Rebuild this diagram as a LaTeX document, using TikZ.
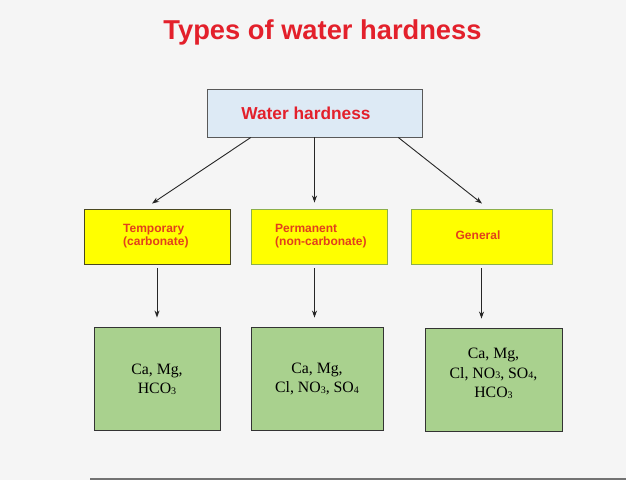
\documentclass[tikz,border=0pt]{standalone}
\usepackage{fontspec}
\setmainfont{Liberation Serif}
\setsansfont{Liberation Sans}
\usetikzlibrary{calc,arrows.meta}
\definecolor{bgc}{HTML}{F5F5F5}
\definecolor{titlered}{HTML}{E3202B}
\definecolor{labred}{HTML}{E2401C}
\definecolor{topfill}{HTML}{DDEAF5}
\definecolor{yfill}{HTML}{FFFF00}
\definecolor{gfill}{HTML}{A9D18E}
\definecolor{oliveb}{HTML}{4A4820}
\definecolor{greenb}{HTML}{8DB04A}
\newcommand{\sbx}[1]{\raisebox{-0.6pt}{\fontsize{10}{10}\selectfont #1}}
\tikzset{
  box/.style={draw, rectangle, inner sep=0pt, line width=0.9pt},
  ybox/.style={box, fill=yfill},
  gbox/.style={box, fill=gfill, draw=black!80},
  gtext/.style={font=\fontsize{15.8}{19.5}\selectfont, align=center, inner sep=0pt},
  ylab/.style={font=\sffamily\bfseries\fontsize{12}{13.5}\selectfont, text=labred, align=left, inner sep=0pt},
  arr/.style={-{Stealth[length=7pt,width=5pt]}, line width=0.9pt, black!85}
}
\begin{document}
\begin{tikzpicture}[x=1pt,y=-1pt]
\fill[bgc] (0,0) rectangle (626,480);
\useasboundingbox (0,0) rectangle (626,480);
\node[font=\sffamily\bfseries\fontsize{27.3}{30}\selectfont, text=titlered, inner sep=0pt] (title) at (322.5,32) {Types of water hardness};
% top box
\node[box, fill=topfill, draw=black!65, minimum width=215pt, minimum height=48pt] (top) at (314.5,113) {};
\node[font=\sffamily\bfseries\fontsize{17.3}{20}\selectfont, text=titlered, inner sep=0pt] (toplab) at (306,113) {Water hardness};
% yellow boxes
\node[ybox, draw=oliveb, minimum width=146pt, minimum height=55pt] (temp) at (157,236.5) {};
\node[ylab, anchor=west] (templab) at (123,236) {Temporary\\(carbonate)};
\node[ybox, draw=greenb, minimum width=136pt, minimum height=55pt] (perm) at (319,236.5) {};
\node[ylab, anchor=west] (permlab) at (275,236) {Permanent\\(non-carbonate)};
\node[ybox, draw=greenb, minimum width=141pt, minimum height=55pt] (gen) at (481.5,236.5) {};
\node[ylab] (genlab) at (478,235) {General};
% green boxes
\node[gbox, minimum width=126pt, minimum height=103pt] (g1) at (157,378.5) {};
\node[gtext] (g1lab) at (157,379) {Ca, Mg,\\HCO\sbx{3}};
\node[gbox, minimum width=132pt, minimum height=103pt] (g2) at (317,378.5) {};
\node[gtext] (g2lab) at (317,379) {Ca, Mg,\\Cl, NO\sbx{3}, SO\sbx{4}};
\node[gbox, minimum width=137pt, minimum height=103pt] (g3) at (493.5,379.5) {};
\node[gtext] (g3lab) at (493.5,373.5) {Ca, Mg,\\Cl, NO\sbx{3}, SO\sbx{4},\\HCO\sbx{3}};
% arrows
\draw[arr] ($(top.south west)!0.205!(top.south east)$) -- ([xshift=-5pt,yshift=5pt]temp.north);
\draw[arr] (top.south) -- ([yshift=6pt]top.south |- perm.north);
\draw[arr] ($(top.south west)!0.888!(top.south east)$) -- ([xshift=0.5pt,yshift=5pt]gen.north);
\draw[arr] ([yshift=-4pt]temp.south) -- ([yshift=9pt]temp.south |- g1.north);
\draw[arr] ([yshift=-4pt]top.south |- perm.south) -- ([yshift=9pt]top.south |- g2.north);
\draw[arr] ([yshift=-4pt]gen.south) -- ([yshift=9pt]gen.south |- g3.north);
% bottom edge line
\coordinate (bl) at (90,479);
\coordinate (br) at (626,479);
\draw[black!55, line width=1.2pt] (bl) -- (br);
\end{tikzpicture}
\end{document}
